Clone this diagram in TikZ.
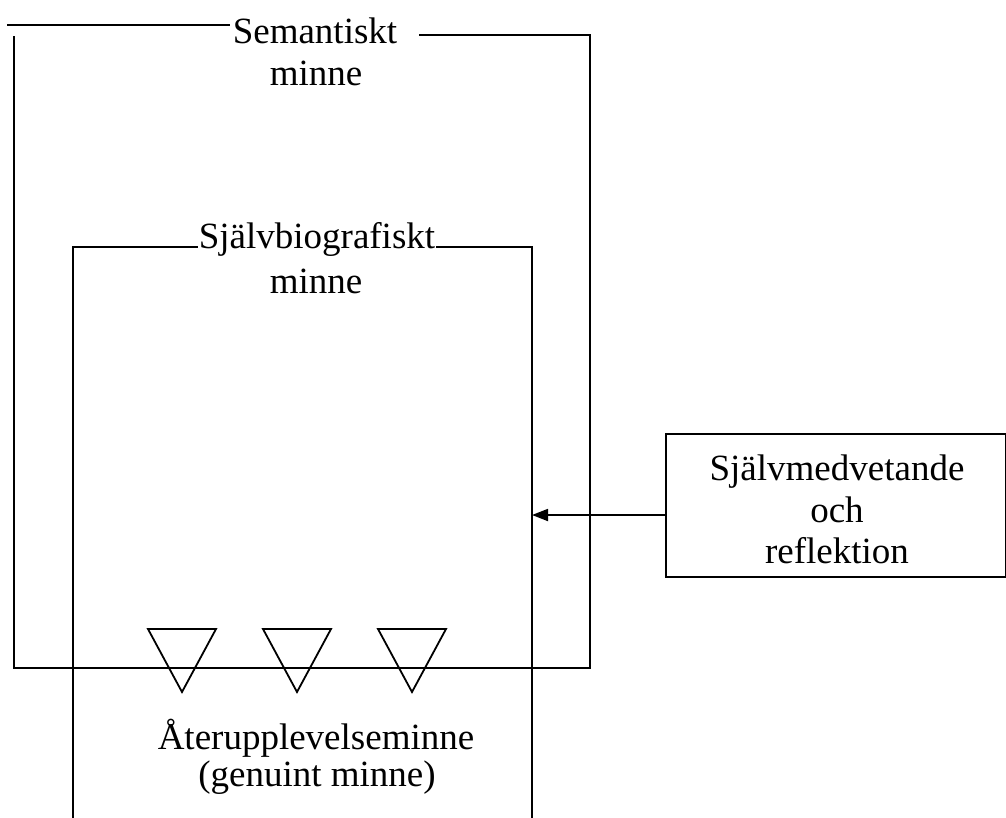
\documentclass[tikz,border=0pt]{standalone}
\usepackage{fontspec}
\setmainfont{Liberation Serif}
\usetikzlibrary{arrows.meta}
\begin{document}
\begin{tikzpicture}[x=1pt,y=-1pt,
  ln/.style={line width=1.8pt,line cap=rect},
  lbl/.style={inner sep=0pt,anchor=base,font=\fontsize{37}{43}\selectfont},
  tri/.style={line width=1.8pt,line join=miter}]
\useasboundingbox (0,0) rectangle (1006,817);
% outer box (Semantiskt minne)
\draw[ln] (8,25) -- (229,25);
\draw[ln] (420,35) -- (590,35) -- (590,668) -- (14,668) -- (14,37);
% inner box (Självbiografiskt minne)
\draw[ln] (73,817) -- (73,247) -- (197,247);
\draw[ln] (437,247) -- (532,247) -- (532,817);
% triangles
\draw[tri] (148,629) -- (216,629) -- (182,692) -- cycle;
\draw[tri] (263,629) -- (331,629) -- (297,692) -- cycle;
\draw[tri] (378,629) -- (446,629) -- (412,692) -- cycle;
% labels
\node[lbl] (sem1) at (315,43) {Semantiskt};
\node[lbl] (sem2) at (316,85) {minne};
\node[lbl] (sjb1) at (317,248) {Självbiografiskt};
\node[lbl] (sjb2) at (316,293) {minne};
\node[lbl] (ate1) at (316,749) {Återupplevelseminne};
\node[lbl] (ate2) at (317,786) {(genuint minne)};
% right box
\node[draw,line width=1.8pt,minimum width=340pt,minimum height=143pt,inner sep=0pt,anchor=north west] (self) at (665,433) {};
\node[lbl] (sm1) at (837,480) {Självmedvetande};
\node[lbl] (sm2) at (837,522) {och};
\node[lbl] (sm3) at (837,563) {reflektion};
\coordinate (ir) at (532,515);
\draw[line width=1.8pt,-{Triangle[length=16pt,width=12pt]}] (self.west |- ir) -- (ir);
\end{tikzpicture}
\end{document}
